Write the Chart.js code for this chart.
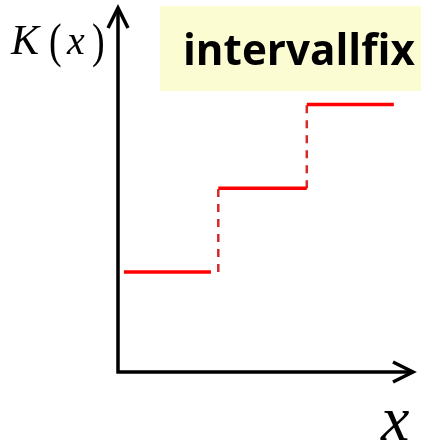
<!DOCTYPE html>
<html>
<head>
<meta charset="utf-8">
<script src="https://cdn.jsdelivr.net/npm/chart.js@4/dist/chart.umd.min.js"></script>
<style>
html,body{margin:0;padding:0;background:#fff;}
canvas{display:block;}
</style>
</head>
<body>
<canvas id="c" width="421" height="443"></canvas>
<script>
// Step function K(x): level of each interval, and its start / end on the x axis
const stepLevels = [2.75, 5.05, 7.35];
const stepStarts = [0.2, 3.4, 6.4];
const stepEnds   = [3.15, 6.4, 9.35];
// Vertical (dashed) jumps between levels
const jumpX = [3.4, 6.4];
const jumpFrom = [2.75, 5.05];
const jumpTo   = [5.05, 7.35];

const axisLabelY = 'K(x)';
const axisLabelX = 'x';
const boxLabel = 'intervallfix';

const datasets = [];
stepLevels.forEach((lv, i) => {
  datasets.push({
    data: [{x: stepStarts[i], y: lv}, {x: stepEnds[i], y: lv}],
    showLine: true, borderColor: '#ff0000', borderWidth: 3.5,
    pointRadius: 0, borderCapStyle: 'butt'
  });
});
jumpX.forEach((jx, i) => {
  datasets.push({
    data: [{x: jx, y: jumpFrom[i]}, {x: jx, y: jumpTo[i]}],
    showLine: true, borderColor: '#d42a2a', borderWidth: 2.5,
    borderDash: [8, 7], pointRadius: 0, borderCapStyle: 'butt'
  });
});

const SERIF = "'Liberation Serif', 'DejaVu Serif', serif";
const SANS = "'Open Sans', sans-serif";

const decor = {
  id: 'decor',
  beforeDatasetsDraw(chart) {
    const ctx = chart.ctx;
    const xs = chart.scales.x, ys = chart.scales.y;
    const x0 = xs.getPixelForValue(0), y0 = ys.getPixelForValue(0);
    const xEnd = xs.getPixelForValue(xs.max), yTop = ys.getPixelForValue(ys.max);
    ctx.save();
    // yellow label box
    ctx.fillStyle = '#fcfcd2';
    ctx.fillRect(160, 6, 261, 85);
    ctx.fillStyle = '#000';
    ctx.font = 'bold 100px ' + SANS;
    const w = ctx.measureText(boxLabel).width;
    const size = 100 * 232 / w;
    ctx.font = 'bold ' + size.toFixed(1) + 'px ' + SANS;
    ctx.textBaseline = 'alphabetic';
    ctx.fillText(boxLabel, 183, 65);

    // axes with arrows
    ctx.strokeStyle = '#000';
    ctx.lineWidth = 3.5;
    ctx.lineCap = 'butt';
    ctx.beginPath();
    ctx.moveTo(x0, y0 + 1.5);
    ctx.lineTo(x0, yTop + 2);
    ctx.moveTo(x0 - 1.5, y0);
    ctx.lineTo(xEnd - 2, y0);
    ctx.stroke();
    ctx.lineJoin = 'miter';
    ctx.beginPath();
    ctx.moveTo(x0 - 10, yTop + 20);
    ctx.lineTo(x0, yTop);
    ctx.lineTo(x0 + 10, yTop + 20);
    ctx.moveTo(xEnd - 20, y0 - 10);
    ctx.lineTo(xEnd, y0);
    ctx.lineTo(xEnd - 20, y0 + 10);
    ctx.stroke();

    // axis labels
    ctx.fillStyle = '#000';
    ctx.font = 'italic 42px ' + SERIF;
    ctx.fillText(axisLabelY[0], 11, 54);
    ctx.font = 'italic 40px ' + SERIF;
    ctx.fillText(axisLabelY[2], 67, 54);
    ctx.font = '38px ' + SERIF;
    ctx.save();
    ctx.scale(1, 1.25);
    ctx.fillText('(', 49, 57 / 1.25);
    ctx.fillText(')', 92, 57 / 1.25);
    ctx.restore();
    ctx.font = 'italic 64px ' + SERIF;
    ctx.fillText(axisLabelX, 381, 440);
    ctx.restore();
  }
};

function build() {
  new Chart(document.getElementById('c'), {
    type: 'scatter',
    data: { datasets },
    options: {
      responsive: false,
      animation: false,
      layout: { padding: { left: 118, right: 8, top: 8, bottom: 71 } },
      plugins: { legend: { display: false }, tooltip: { enabled: false } },
      scales: {
        x: { type: 'linear', min: 0, max: 10, display: false },
        y: { type: 'linear', min: 0, max: 10, display: false }
      }
    },
    plugins: [decor]
  });
}
Promise.all([
  document.fonts.load("italic 40px 'Liberation Serif'"),
  document.fonts.load("bold 40px 'Open Sans'")
]).then(build, build);
</script>
</body>
</html>
